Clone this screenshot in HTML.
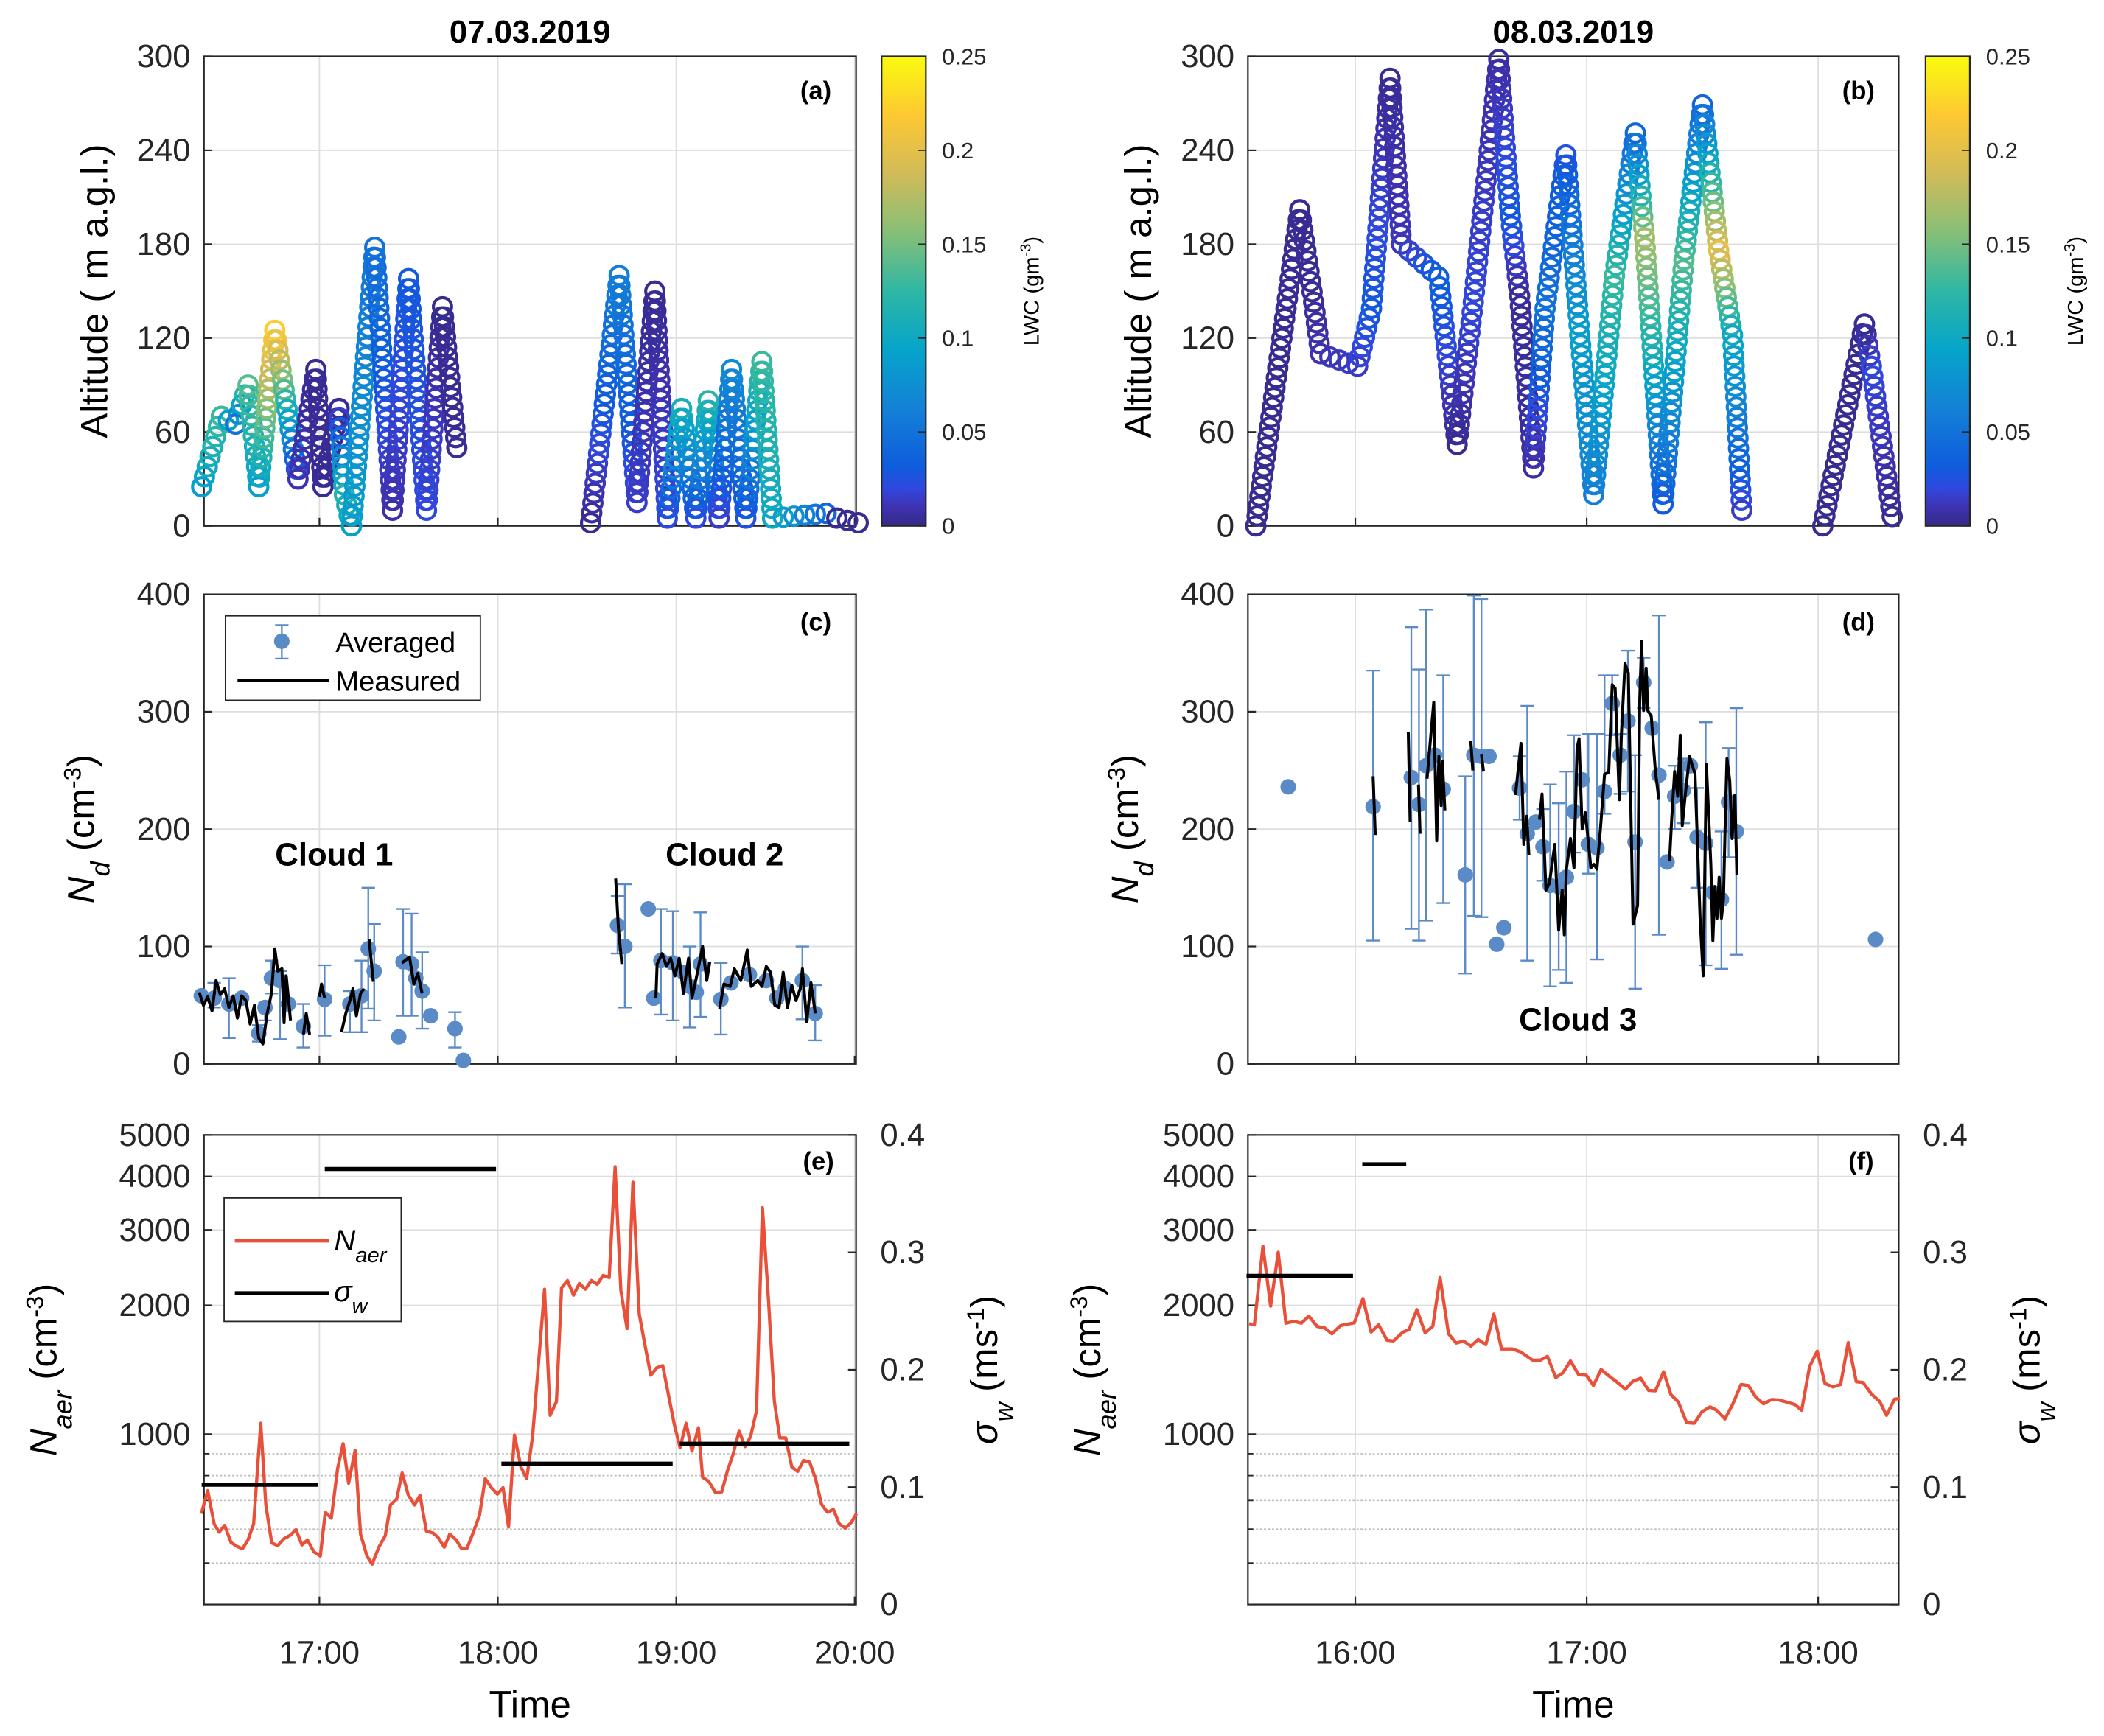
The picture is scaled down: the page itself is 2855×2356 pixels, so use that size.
<!DOCTYPE html>
<html><head><meta charset="utf-8"><style>
html,body{margin:0;padding:0;background:#fff}
svg{display:block}
text{font-family:"Liberation Sans",Arial,sans-serif}
</style></head><body>
<svg id="fig" xmlns="http://www.w3.org/2000/svg" width="2855" height="2356" viewBox="0 0 1568 1294" preserveAspectRatio="none">
<defs>
<linearGradient id="parula" x1="0" y1="1" x2="0" y2="0">
<stop offset="0" stop-color="#352a87"/><stop offset="0.04" stop-color="#3e32b2"/><stop offset="0.08" stop-color="#3048de"/><stop offset="0.125" stop-color="#0f5cdd"/><stop offset="0.25" stop-color="#1481d6"/><stop offset="0.375" stop-color="#06a4ca"/><stop offset="0.5" stop-color="#2eb7a4"/><stop offset="0.625" stop-color="#87bf77"/><stop offset="0.75" stop-color="#d1bb59"/><stop offset="0.875" stop-color="#fec832"/><stop offset="1" stop-color="#f9fb0e"/>
</linearGradient>
</defs>
<rect x="0" y="0" width="1568" height="1294" fill="#fff"/>
</svg>
<script>
// ---------- DATA ----------
const flightATime=[16.34,16.45,16.53,16.60,16.66,16.75,16.88,16.98,17.02,17.11,17.14,17.18,17.31,17.41,17.50,17.60,17.69,17.77,null,18.52,18.68,18.78,18.88,18.95,19.03,19.11,19.18,19.24,19.31,19.39,19.48,19.54,19.84,19.90,20.02];
const flightAAlt=[25,70,65,90,25,125,30,100,25,75,20,0,178,10,158,10,140,50,null,2,160,15,150,5,75,5,80,5,100,5,105,5,8,5,2];
const flightALwc=[0.09,0.13,0.05,0.14,0.09,0.22,0.01,0.003,0.003,0.003,0.12,0.09,0.05,0.008,0.03,0.02,0.002,0.004,null,0.002,0.06,0.015,0.002,0.02,0.11,0.02,0.12,0.015,0.07,0.025,0.13,0.10,0.04,0.003,0.002];
const flightBTime=[15.57,15.76,15.82,15.85,16.01,16.07,16.15,16.20,16.36,16.44,16.51,16.62,16.67,16.71,16.77,16.82,16.91,16.97,17.03,17.12,17.21,17.25,17.33,17.42,17.50,17.57,17.63,17.67,null,18.02,18.20,18.23,18.32];
const flightBAlt=[0,202,143,110,102,139,286,180,159,52,143,298,198,147,37,139,237,122,20,160,251,184,14,170,269,176,122,10,null,0,129,102,6];
const flightBLwc=[0.002,0.003,0.004,0.01,0.015,0.03,0.003,0.012,0.035,0.002,0.02,0.006,0.03,0.004,0.006,0.05,0.025,0.09,0.06,0.13,0.04,0.17,0.03,0.14,0.04,0.20,0.10,0.015,null,0.002,0.002,0.02,0.003];

const avgCTime=[16.338,16.410,16.493,16.564,16.660,16.695,16.731,16.779,16.826,16.910,17.029,17.171,17.236,17.274,17.307,17.445,17.469,17.517,17.540,17.576,17.624,17.760,17.807,18.671,18.712,18.843,18.874,18.914,18.981,19.040,19.076,19.112,19.136,19.250,19.307,19.410,19.505,19.564,19.612,19.707,19.779];
const avgCNd=[58,56,51,56,26,48,73,71,51,32,55,51,58,98,79,23,87,85,73,62,41,30,3,118,100,132,56,88,86,78,66,61,85,55,69,76,71,56,64,71,43];
const avgCLo=[0,48,22,0,19,37,60,21,0,14,24,27,27,47,37,0,41,41,0,30,0,14,0,94,48,0,0,42,37,0,31,0,40,25,0,0,0,0,0,38,20];
const avgCHi=[0,69,73,0,33,52,88,79,0,51,84,62,88,150,119,0,132,128,0,95,0,44,0,143,153,0,0,132,130,0,100,0,129,86,0,0,0,0,0,100,67];
const measCTime=[16.326,16.35,16.374,16.398,16.421,16.445,16.469,16.493,16.517,16.540,16.564,16.588,16.612,16.636,16.660,16.683,16.707,16.731,16.750,16.767,16.790,16.802,16.814,16.838,null,16.910,16.926,16.945,null,17.0,17.012,17.029,null,17.124,17.148,17.171,17.188,17.207,17.231,17.25,null,17.279,17.302,null,17.462,17.505,17.529,17.552,17.576,null,18.660,18.676,18.695,null,18.886,18.893,18.921,18.945,18.969,18.993,19.017,19.040,19.069,19.088,19.112,19.148,19.171,19.188,null,19.243,19.267,19.302,19.326,19.362,19.398,19.421,19.457,19.481,19.505,19.529,19.552,19.576,19.6,19.624,19.648,19.671,19.695,19.707,19.731,19.755,19.779];
const measCNd=[61,50,57,45,71,59,64,48,58,39,58,54,34,50,22,17,43,60,98,79,81,35,75,37,null,25,43,25,null,57,68,56,null,27,43,54,64,41,60,64,null,106,70,null,86,91,68,77,60,null,158,115,85,null,56,85,94,83,90,75,90,60,90,56,73,100,71,87,null,47,68,66,81,71,97,66,71,66,83,78,50,48,78,48,67,54,64,81,36,69,43];

const avgDTime=[15.71,16.077,16.242,16.275,16.306,16.343,16.380,16.475,16.512,16.545,16.578,16.611,16.642,16.710,16.743,16.780,16.811,16.842,16.879,16.912,16.945,16.980,17.007,17.044,17.077,17.110,17.145,17.178,17.209,17.246,17.283,17.312,17.347,17.380,17.417,17.448,17.477,17.514,17.545,17.582,17.613,17.646,18.248];
const avgDNd=[236,219,244,221,254,263,234,161,263,262,262,102,116,235,196,206,185,152,151,159,215,242,187,184,232,307,263,292,189,325,286,246,172,228,233,254,193,188,146,140,223,198,106];
const avgDLo=[0,105,115,105,122,0,137,77,126,125,0,0,0,208,88,0,156,66,80,69,180,0,162,89,213,280,230,232,64,303,0,110,0,200,205,0,150,84,0,81,176,93,0];
const avgDHi=[0,335,372,336,387,0,331,245,399,396,0,0,0,262,305,0,217,238,222,249,280,0,281,281,331,331,281,352,263,346,0,382,0,254,260,0,235,291,0,198,269,303,0];
const measDTime=[16.077,16.086,null,16.229,16.237,null,16.273,16.280,null,16.31,16.325,16.339,16.352,16.361,16.371,16.376,16.387,null,16.499,16.508,null,16.545,16.554,null,16.692,16.716,16.728,16.741,16.750,null,16.796,16.807,16.824,16.839,16.862,16.879,16.894,16.903,16.912,16.930,16.945,16.958,16.967,16.980,16.994,17.018,17.031,17.044,17.059,17.077,17.095,17.110,17.123,17.141,17.150,17.165,17.180,17.200,17.220,17.229,17.237,17.246,17.257,17.264,17.279,17.297,17.312,null,17.358,17.367,17.380,17.393,17.404,17.413,17.426,17.444,17.468,17.490,17.503,17.517,17.536,17.545,17.554,17.563,17.572,17.582,17.591,17.600,17.606,17.618,17.628,17.640,17.649];
const measDNd=[245,195,null,283,206,null,238,196,null,243,277,308,190,262,220,258,216,null,275,250,null,264,249,null,229,273,187,211,178,null,208,230,148,154,187,114,148,110,165,192,167,269,277,200,214,167,170,166,200,247,248,323,320,225,282,341,333,119,135,310,360,301,337,301,296,249,225,null,173,208,249,228,280,203,230,262,247,124,75,255,170,105,151,124,159,124,140,219,260,241,192,229,161];

const naerETime=[16.338,16.374,16.410,16.438,16.469,16.505,16.540,16.569,16.600,16.631,16.671,16.700,16.733,16.767,16.802,16.838,16.869,16.902,16.933,16.969,17.005,17.033,17.067,17.102,17.133,17.164,17.200,17.231,17.267,17.295,17.333,17.369,17.398,17.433,17.464,17.498,17.533,17.564,17.600,17.636,17.664,17.700,17.731,17.767,17.795,17.826,17.862,17.898,17.929,17.964,17.998,18.029,18.060,18.093,18.129,18.162,18.195,18.262,18.293,18.329,18.357,18.390,18.424,18.457,18.490,18.524,18.557,18.590,18.624,18.657,18.690,18.724,18.757,18.793,18.826,18.857,18.890,18.924,18.957,18.990,19.021,19.055,19.088,19.124,19.148,19.183,19.219,19.255,19.286,19.319,19.352,19.386,19.417,19.450,19.483,19.517,19.550,19.581,19.614,19.648,19.681,19.714,19.748,19.781,19.814,19.848,19.881,19.914,19.948,19.981,20.010];
const naerEVal=[652,738,617,590,612,558,546,540,566,617,1060,683,557,549,570,581,598,551,566,531,519,657,636,831,950,768,916,584,519,497,544,579,683,705,812,722,683,719,593,588,575,544,584,566,542,540,588,647,787,750,724,750,607,995,838,787,988,2181,1106,1192,2198,2286,2113,2250,2181,2286,2239,2348,2322,4214,2163,1765,3879,1908,1606,1373,1428,1446,1230,1051,930,1060,913,1035,793,775,731,733,818,899,1016,935,988,1134,3382,2064,1192,980,980,838,818,868,860,787,686,657,667,617,603,622,652];
const sigmaEStart=[16.34,17.03,18.02,19.02];
const sigmaEEnd=[16.99,17.99,18.98,19.97];
const sigmaEVal=[0.102,0.371,0.120,0.137];
const naerFTime=[15.542,15.564,15.601,15.634,15.667,15.700,15.734,15.767,15.799,15.835,15.868,15.899,15.936,15.996,16.033,16.068,16.101,16.137,16.165,16.205,16.233,16.266,16.302,16.335,16.366,16.403,16.436,16.467,16.500,16.531,16.564,16.599,16.632,16.678,16.714,16.766,16.800,16.830,16.866,16.897,16.930,16.965,16.998,17.029,17.062,17.095,17.130,17.167,17.200,17.233,17.267,17.297,17.332,17.364,17.396,17.432,17.465,17.498,17.533,17.562,17.597,17.630,17.667,17.698,17.731,17.764,17.799,17.832,17.864,17.899,17.929,17.963,17.996,18.029,18.064,18.097,18.130,18.165,18.194,18.231,18.266,18.295,18.330,18.353];
const naerFVal=[1813,1799,2747,1991,2661,1816,1835,1816,1888,1785,1770,1716,1793,1820,2074,1732,1801,1657,1652,1729,1759,1954,1723,1788,2322,1716,1632,1650,1606,1665,1618,1908,1581,1581,1556,1489,1489,1520,1356,1390,1483,1377,1373,1300,1416,1369,1324,1274,1330,1351,1265,1263,1399,1236,1188,1063,1060,1128,1159,1137,1085,1173,1306,1300,1220,1177,1205,1201,1188,1173,1137,1439,1563,1314,1289,1306,1637,1326,1320,1240,1192,1106,1207,1211];
const sigmaFStart=[15.53,16.03];
const sigmaFEnd=[15.99,16.22];
const sigmaFVal=[0.280,0.375];

const altTicks=[0,60,120,180,240,300];
const ndTicks=[0,100,200,300,400];
const naerTicks=[1000,2000,3000,4000,5000];
const naerMinor=[400,500,600,700,800,900];
const sigmaTicks=[0,0.1,0.2,0.3,0.4];
const lwcTicks=[0,0.05,0.1,0.15,0.2,0.25];
const timeTicksL=[17,18,19,20];
const timeTicksR=[16,17,18];

// ---------- SCALES ----------
const L={x0:152,x1:638,t0:16.353,t1:20.008};
const R={x0:930,x1:1415,t0:15.536,t1:18.348};
function xs(P,t){return P.x0+(t-P.t0)*(P.x1-P.x0)/(P.t1-P.t0);}
const yAlt=a=>392-a*350/300;
const yNd=n=>793-n*350/400;
const yNaer=n=>1069-(Math.log10(n)-3)*319;
const ySig=s=>1196-s*875;
const yLwc=v=>392-v*350/0.25;

const svg=document.getElementById('fig');
const NS='http://www.w3.org/2000/svg';
function mk(tag,attrs,parent){const e=document.createElementNS(NS,tag);for(const k in attrs)e.setAttribute(k,attrs[k]);(parent||svg).appendChild(e);return e;}
function fmtT(h){return (h<10?'0':'')+h+':00';}

const parStops=[[0,[53,42,135]],[0.04,[62,50,178]],[0.08,[48,72,222]],[0.125,[15,92,221]],[0.25,[20,129,214]],[0.375,[6,164,202]],[0.5,[46,183,164]],[0.625,[135,191,119]],[0.75,[209,187,89]],[0.875,[254,200,50]],[1,[249,251,14]]];
function parula(f){f=Math.max(0,Math.min(1,f));for(let i=1;i<parStops.length;i++){if(f<=parStops[i][0]){const a=parStops[i-1],b=parStops[i];const u=(f-a[0])/(b[0]-a[0]);const c=a[1].map((v,j)=>Math.round(v+(b[1][j]-v)*u));return 'rgb('+c.join(',')+')';}}return 'rgb(249,251,14)';}

function axesBox(P,y0,y1,name){
  const g=mk('g',{});
  
  
  return g;
}
function drawFrame(g,P,y0,y1){
  const r=mk('rect',{x:P.x0,y:y0,width:P.x1-P.x0,height:y1-y0,fill:'none',stroke:'#262626','stroke-width':1.2},g);
  
  
}
function xGrid(g,P,ticks,y0,y1,labels){
  ticks.forEach(t=>{
    const x=xs(P,t);
    const gl=mk('line',{x1:x,x2:x,y1:y0,y2:y1,stroke:'#dedede','stroke-width':1},g);
    
    
    const tk=mk('line',{x1:x,x2:x,y1:y1,y2:y1-6,stroke:'#262626','stroke-width':1.2},g);
    
    
    if(labels){
      const tx=mk('text',{x:x,y:1240,'font-size':24,'text-anchor':'middle',fill:'#262626'},g);
      tx.textContent=fmtT(t);
      
      
    }
  });
}
function yGrid(g,P,vals,fy,labels,lx,fs){
  vals.forEach(v=>{
    const y=fy(v);
    const gl=mk('line',{x1:P.x0,x2:P.x1,y1:y,y2:y,stroke:'#dedede','stroke-width':1},g);
    
    
    const tk=mk('line',{x1:P.x0,x2:P.x0+6,y1:y,y2:y,stroke:'#262626','stroke-width':1.2},g);
    
    
    const tx=mk('text',{x:lx,y:y+8,'font-size':fs||24,'text-anchor':'end',fill:'#262626'},g);
    tx.textContent=String(v);
    
    
  });
}
function label(g,x,y,txt,name,opts){
  const t=mk('text',Object.assign({x:x,y:y,fill:'#000'},opts||{}),g);
  t.textContent=txt;
  
  
  return t;
}
function rotLabel(g,x,y,parts,name,fs){
  const t=mk('text',{x:0,y:0,transform:'translate('+x+','+y+') rotate(-90)','text-anchor':'middle','font-size':fs,fill:'#000'},g);
  parts.forEach(p=>{const s=mk('tspan',p.a||{},t);s.textContent=p.t;});
  
  
  return t;
}

function altPanel(P,times,alts,lwcs,name,tag,title,cbx){
  const g=axesBox(P,42,392,name);
  xGrid(g,P,P===L?timeTicksL:timeTicksR,42,392,false);
  yGrid(g,P,altTicks,yAlt,true,P.x0-10);
  drawFrame(g,P,42,392);
  label(g,(P.x0+P.x1)/2,32,title,'panel-title',{'font-size':24,'font-weight':'bold','text-anchor':'middle'});
  label(g,P.x1-30,74,tag,'panel-label',{'font-size':19,'font-weight':'bold','text-anchor':'middle'});
  rotLabel(g,P.x0-72,217,[{t:'Altitude ( m a.g.l.)'}],'y-axis-title',28);
  const tg=mk('g',{fill:'none','stroke-width':2.3},g);
  
  
  for(let i=0;i<times.length-1;i++){
    if(times[i]===null||times[i+1]===null)continue;
    const xa=xs(P,times[i]),ya=yAlt(alts[i]),xb=xs(P,times[i+1]),yb=yAlt(alts[i+1]);
    const n=Math.max(1,Math.round(Math.hypot(xb-xa,yb-ya)/7.5));
    for(let k=0;k<n;k++){
      const u=k/n;
      const lw=lwcs[i]+(lwcs[i+1]-lwcs[i])*u;
      const c=mk('circle',{cx:xa+(xb-xa)*u,cy:ya+(yb-ya)*u,r:6.8,stroke:parula(lw/0.25)},tg);
      
      
    }
    if(i+2>=times.length||times[i+2]===null){
      const c=mk('circle',{cx:xb,cy:yb,r:6.8,stroke:parula(lwcs[i+1]/0.25)},tg);
      
      
    }
  }
  const cb=mk('g',{},g);
  
  
  const r=mk('rect',{x:cbx,y:42,width:33,height:350,fill:'url(#parula)',stroke:'#262626','stroke-width':1.2},cb);
  
  
  lwcTicks.forEach(v=>{
    const y=yLwc(v);
    const tk=mk('line',{x1:cbx+27,x2:cbx+33,y1:y,y2:y,stroke:'#262626','stroke-width':1},cb);
    
    
    label(cb,cbx+45,y+6,String(v),'colorbar-tick-label',{'font-size':17,fill:'#262626'});
  });
  rotLabel(cb,cbx+117,217,[{t:'LWC (gm'},{t:'-3',a:{'baseline-shift':'super','font-size':11}},{t:')'}],'colorbar-title',16);
}
altPanel(L,flightATime,flightAAlt,flightALwc,'panel-a-altitude','(a)','07.03.2019',657);
altPanel(R,flightBTime,flightBAlt,flightBLwc,'panel-b-altitude','(b)','08.03.2019',1435);

const AVGC='#5b8bc7';
function ndPanel(P,aT,aN,aLo,aHi,mT,mN,name,tag){
  const g=axesBox(P,443,793,name);
  xGrid(g,P,P===L?timeTicksL:timeTicksR,443,793,false);
  yGrid(g,P,ndTicks,yNd,true,P.x0-10);
  drawFrame(g,P,443,793);
  label(g,P.x1-30,470,tag,'panel-label',{'font-size':19,'font-weight':'bold','text-anchor':'middle'});
  rotLabel(g,P.x0-82,618,[{t:'N',a:{'font-style':'italic'}},{t:'d',a:{'font-style':'italic','baseline-shift':'sub','font-size':20}},{t:' (cm'},{t:'-3',a:{'baseline-shift':'super','font-size':18}},{t:')'}],'y-axis-title',28);
  const ag=mk('g',{},g);
  
  
  aT.forEach((t,i)=>{
    const x=xs(P,t);
    if(aHi[i]>0){
      const eb=mk('path',{d:'M'+x+','+yNd(aLo[i])+'V'+yNd(aHi[i])+'M'+(x-5)+','+yNd(aLo[i])+'h10M'+(x-5)+','+yNd(aHi[i])+'h10',stroke:AVGC,'stroke-width':1.3,fill:'none'},ag);
      
      
    }
    const c=mk('circle',{cx:x,cy:yNd(aN[i]),r:5.8,fill:AVGC},ag);
    
    
  });
  let d='',pen=false;
  mT.forEach((t,i)=>{if(t===null){pen=false;return;}d+=(pen?'L':'M')+xs(P,t).toFixed(1)+','+yNd(mN[i]).toFixed(1);pen=true;});
  const ml=mk('path',{d:d,fill:'none',stroke:'#000','stroke-width':2.2,'stroke-linejoin':'round'},g);
  
  
  return g;
}
const gc=ndPanel(L,avgCTime,avgCNd,avgCLo,avgCHi,measCTime,measCNd,'panel-c-droplet-number','(c)');
const gd=ndPanel(R,avgDTime,avgDNd,avgDLo,avgDHi,measDTime,measDNd,'panel-d-droplet-number','(d)');
label(gc,249,645,'Cloud 1','cloud-1-label',{'font-size':24,'font-weight':'bold','text-anchor':'middle'});
label(gc,540,645,'Cloud 2','cloud-2-label',{'font-size':24,'font-weight':'bold','text-anchor':'middle'});
label(gd,1176,768,'Cloud 3','cloud-3-label',{'font-size':24,'font-weight':'bold','text-anchor':'middle'});
const lc=mk('g',{},gc);


const lcb=mk('rect',{x:168,y:459,width:190,height:63,fill:'#fff',stroke:'#262626','stroke-width':1},lc);


const lce=mk('path',{d:'M210,466V491M205,466h10M205,491h10',stroke:AVGC,'stroke-width':1.3,fill:'none'},lc);


const lcp=mk('circle',{cx:210,cy:478,r:5.8,fill:AVGC},lc);


label(lc,250,486,'Averaged','legend-entry-averaged',{'font-size':21});
const lcl=mk('line',{x1:177,x2:245,y1:507,y2:507,stroke:'#000','stroke-width':2.2},lc);


label(lc,250,515,'Measured','legend-entry-measured',{'font-size':21});

function aerPanel(P,nT,nV,sS,sE,sV,name,tag){
  const g=axesBox(P,846,1196,name);
  xGrid(g,P,P===L?timeTicksL:timeTicksR,846,1196,true);
  yGrid(g,P,naerTicks,yNaer,true,P.x0-10);
  naerMinor.forEach(v=>{
    const y=yNaer(v);
    const gl=mk('line',{x1:P.x0,x2:P.x1,y1:y,y2:y,stroke:'#bbb','stroke-width':0.9,'stroke-dasharray':'1.5,1.5'},g);
    
    
    const tk=mk('line',{x1:P.x0,x2:P.x0+4,y1:y,y2:y,stroke:'#262626','stroke-width':1},g);
    
    
  });
  sigmaTicks.forEach(v=>{
    const y=ySig(v);
    const tk=mk('line',{x1:P.x1-6,x2:P.x1,y1:y,y2:y,stroke:'#262626','stroke-width':1.2},g);
    
    
    label(g,P.x1+18,y+8,String(v),'right-y-tick-label',{'font-size':24,fill:'#262626'});
  });
  drawFrame(g,P,846,1196);
  label(g,P.x1-28,872,tag,'panel-label',{'font-size':19,'font-weight':'bold','text-anchor':'middle'});
  label(g,(P.x0+P.x1)/2,1280,'Time','x-axis-title',{'font-size':28,'text-anchor':'middle'});
  rotLabel(g,P.x0-110,1021,[{t:'N',a:{'font-style':'italic'}},{t:'aer',a:{'font-style':'italic','baseline-shift':'sub','font-size':20}},{t:' (cm'},{t:'-3',a:{'baseline-shift':'super','font-size':18}},{t:')'}],'left-y-axis-title',28);
  rotLabel(g,P.x1+105,1021,[{t:'σ',a:{'font-style':'italic'}},{t:'w',a:{'font-style':'italic','baseline-shift':'sub','font-size':20}},{t:' (ms'},{t:'-1',a:{'baseline-shift':'super','font-size':18}},{t:')'}],'right-y-axis-title',28);
  let d='';
  nT.forEach((t,i)=>{d+=(i?'L':'M')+xs(P,t).toFixed(1)+','+yNaer(nV[i]).toFixed(1);});
  const nl=mk('path',{d:d,fill:'none',stroke:'#e8503a','stroke-width':2.4,'stroke-linejoin':'round'},g);
  
  
  sS.forEach((s,i)=>{
    const sl=mk('line',{x1:xs(P,s),x2:xs(P,sE[i]),y1:ySig(sV[i]),y2:ySig(sV[i]),stroke:'#000','stroke-width':3},g);
    
    
  });
  return g;
}
const ge=aerPanel(L,naerETime,naerEVal,sigmaEStart,sigmaEEnd,sigmaEVal,'panel-e-aerosol','(e)');
aerPanel(R,naerFTime,naerFVal,sigmaFStart,sigmaFEnd,sigmaFVal,'panel-f-aerosol','(f)');
const le=mk('g',{},ge);


const leb=mk('rect',{x:167,y:893,width:132,height:92,fill:'#fff',stroke:'#262626','stroke-width':1},le);


const lel=mk('line',{x1:175,x2:245,y1:925,y2:925,stroke:'#e8503a','stroke-width':2.4},le);


const let1=mk('text',{x:249,y:932,'font-size':22,'font-style':'italic'},le);
const a1=mk('tspan',{},let1);a1.textContent='N';
const a2=mk('tspan',{'baseline-shift':'sub','font-size':16},let1);a2.textContent='aer';


const lel2=mk('line',{x1:175,x2:245,y1:964,y2:964,stroke:'#000','stroke-width':3},le);


const let2=mk('text',{x:249,y:970,'font-size':22,'font-style':'italic'},le);
const b1=mk('tspan',{},let2);b1.textContent='σ';
const b2=mk('tspan',{'baseline-shift':'sub','font-size':16},let2);b2.textContent='w';


</script>
</body></html>
